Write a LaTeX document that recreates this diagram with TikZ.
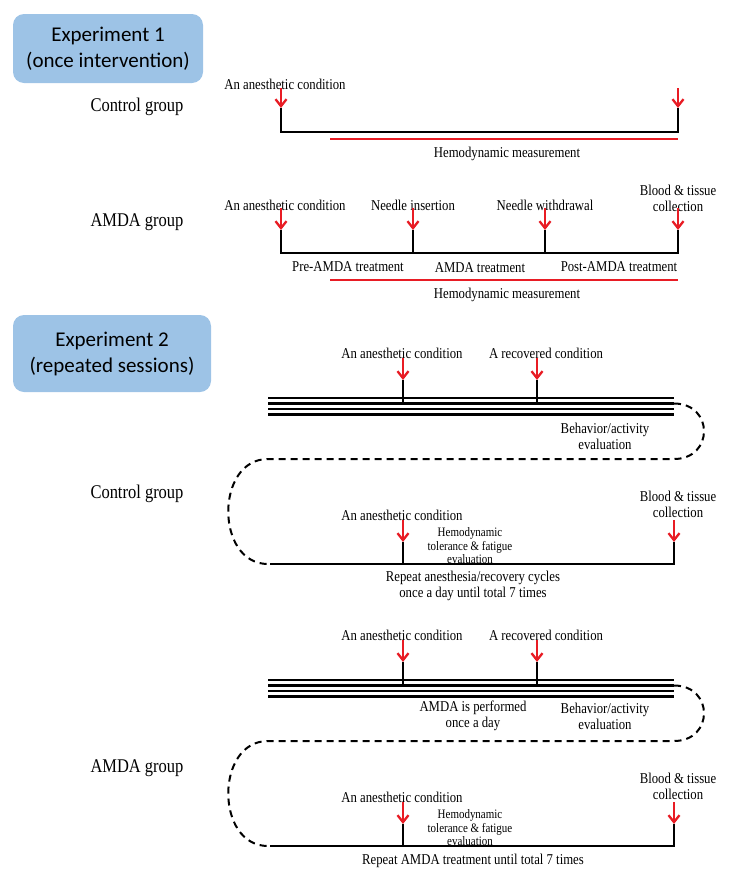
\documentclass[tikz,border=0pt]{standalone}
\usepackage{fontspec}
\setmainfont{Liberation Serif}[FakeStretch=0.85]
\newfontfamily\boxfont{Carlito}
\usetikzlibrary{arrows.meta}
\definecolor{boxblue}{RGB}{157,195,230}
\definecolor{tred}{RGB}{232,28,36}
\begin{document}
\begin{tikzpicture}[x=1pt,y=-1pt,
  expbox/.style={fill=boxblue, rounded corners=11pt, inner sep=0pt, align=center,
    font=\boxfont\fontsize{21}{26}\selectfont},
  grp/.style={font=\fontsize{19.4}{22}\selectfont, inner sep=0pt},
  lbl/.style={font=\fontsize{15}{16}\selectfont, inner sep=0pt, align=center},
  small/.style={font=\fontsize{12.9}{13.5}\selectfont, inner sep=0pt, align=center},
  tl/.style={line width=2.4pt, black, line join=miter},
  redarrow/.style={tred, line width=2.3pt, -{Straight Barb[length=7pt,width=11pt]}},
  redline/.style={tred, line width=2pt},
  loopline/.style={line width=2pt, dash pattern=on 7pt off 5pt}
]
\useasboundingbox (0,0) rectangle (729,884);

% ---------- Experiment 1 ----------
\node[expbox, minimum width=190pt, minimum height=69pt] (exp1) at (108,48.5) {Experiment 1\\(once intervention)};

% Control group
\node[grp] (cg1) at (137,107) {Control group};
\node[lbl] (ac1) at (285,84) {An anesthetic condition};
\coordinate (c1at) at (281,88);  \coordinate (c1ab) at (281,108); \coordinate (c1l) at (281,132);
\coordinate (c1bt) at (678,88);  \coordinate (c1bb) at (678,108); \coordinate (c1r) at (678,132);
\draw[redarrow] (c1at) -- (c1ab);
\draw[redarrow] (c1bt) -- (c1bb);
\draw[tl] (c1ab) -- (c1l) -- (c1r) -- (c1bb);
\coordinate (r1a) at (330,139); \coordinate (r1b) at (678,139);
\draw[redline] (r1a) -- (r1b);
\node[lbl] (hm1) at (507,154) {Hemodynamic measurement};

% AMDA group
\node[grp] (ag1) at (137,222) {AMDA group};
\node[lbl] (ac2) at (285,205) {An anesthetic condition};
\node[lbl] (ni) at (413,205) {Needle insertion};
\node[lbl] (nw) at (545,205) {Needle withdrawal};
\node[lbl] (bt1) at (678,198) {Blood \& tissue\\collection};
\foreach \n/\x in {a/281,b/413,c/545,d/678}{
  \coordinate (a1\n t) at (\x,208);
  \coordinate (a1\n m) at (\x,230);
  \coordinate (a1\n b) at (\x,253);
}
\foreach \n in {a,b,c,d}{
  \draw[redarrow] (a1\n t) -- (a1\n m);
}
\draw[tl] (a1am) -- (a1ab) -- (a1db) -- (a1dm);
\draw[tl] (a1bm) -- (a1bb);
\draw[tl] (a1cm) -- (a1cb);
\node[lbl] (pre) at (348,267) {Pre-AMDA treatment};
\node[lbl] (amt) at (480,268) {AMDA treatment};
\node[lbl] (post) at (619,267) {Post-AMDA treatment};
\coordinate (r2a) at (330,280); \coordinate (r2b) at (678,280);
\draw[redline] (r2a) -- (r2b);
\node[lbl] (hm2) at (507,295) {Hemodynamic measurement};

% ---------- Experiment 2 ----------
\node[expbox, minimum width=198pt, minimum height=77pt] (exp2) at (112,353.5) {Experiment 2\\(repeated sessions)};

% Control group (repeated)
\node[lbl] (ac3) at (402,353) {An anesthetic condition};
\node[lbl] (rc1) at (546,353) {A recovered condition};
\coordinate (c2at) at (403,358); \coordinate (c2am) at (403,380); \coordinate (c2ab) at (403,403);
\coordinate (c2bt) at (537,358); \coordinate (c2bm) at (537,380); \coordinate (c2bb) at (537,403);
\draw[redarrow] (c2at) -- (c2am);
\draw[redarrow] (c2bt) -- (c2bm);
\draw[tl] (c2am) -- (c2ab);
\draw[tl] (c2bm) -- (c2bb);
\foreach \k/\y in {1/398,2/403.5,3/409,4/414.5}{
  \coordinate (c2l\k) at (268,\y); \coordinate (c2r\k) at (674,\y);
  \draw[tl] (c2l\k) -- (c2r\k);
}
\node[lbl] (be1) at (605,436) {Behavior/activity\\evaluation};
\coordinate (c2lt) at (674,459); \coordinate (c2lb) at (268,459); \coordinate (c2le) at (268,564);
\draw[loopline] (c2r2) .. controls (714,403.5) and (714,459) .. (c2lt) -- (c2lb)
   .. controls (215,459) and (215,564) .. (c2le);
\node[grp] (cg2) at (137,494) {Control group};
\node[lbl] (ac4) at (402,515) {An anesthetic condition};
\node[lbl] (bt2) at (678,504) {Blood \& tissue\\collection};
\coordinate (c3at) at (403,520); \coordinate (c3am) at (403,542);
\coordinate (c3bt) at (674,520); \coordinate (c3bm) at (674,542);
\coordinate (c3l) at (403,564); \coordinate (c3s) at (270,564); \coordinate (c3r) at (674,564);
\draw[redarrow] (c3at) -- (c3am);
\draw[redarrow] (c3bt) -- (c3bm);
\draw[tl] (c3s) -- (c3r) -- (c3bm);
\draw[tl] (c3am) -- (c3l);
\node[small] (hf1) at (470,546) {Hemodynamic\\tolerance \& fatigue\\evaluation};
\node[lbl] (rp1) at (473,586) {Repeat anesthesia/recovery cycles\\once a day until total 7 times};

% AMDA group (repeated)
\node[lbl] (ac5) at (402,635) {An anesthetic condition};
\node[lbl] (rc2) at (546,635) {A recovered condition};
\coordinate (d2at) at (403,640); \coordinate (d2am) at (403,662); \coordinate (d2ab) at (403,685);
\coordinate (d2bt) at (537,640); \coordinate (d2bm) at (537,662); \coordinate (d2bb) at (537,685);
\draw[redarrow] (d2at) -- (d2am);
\draw[redarrow] (d2bt) -- (d2bm);
\draw[tl] (d2am) -- (d2ab);
\draw[tl] (d2bm) -- (d2bb);
\foreach \k/\y in {1/680,2/685.5,3/691,4/696.5}{
  \coordinate (d2l\k) at (268,\y); \coordinate (d2r\k) at (674,\y);
  \draw[tl] (d2l\k) -- (d2r\k);
}
\node[lbl] (ap) at (473,716) {AMDA is performed\\once a day};
\node[lbl] (be2) at (605,716) {Behavior/activity\\evaluation};
\coordinate (d2lt) at (674,741); \coordinate (d2lb) at (268,741); \coordinate (d2le) at (268,846);
\draw[loopline] (d2r2) .. controls (714,685.5) and (714,741) .. (d2lt) -- (d2lb)
   .. controls (215,741) and (215,846) .. (d2le);
\node[grp] (ag2) at (137,768) {AMDA group};
\node[lbl] (ac6) at (402,797) {An anesthetic condition};
\node[lbl] (bt3) at (678,786) {Blood \& tissue\\collection};
\coordinate (d3at) at (403,802); \coordinate (d3am) at (403,824);
\coordinate (d3bt) at (674,802); \coordinate (d3bm) at (674,824);
\coordinate (d3l) at (403,846); \coordinate (d3s) at (270,846); \coordinate (d3r) at (674,846);
\draw[redarrow] (d3at) -- (d3am);
\draw[redarrow] (d3bt) -- (d3bm);
\draw[tl] (d3s) -- (d3r) -- (d3bm);
\draw[tl] (d3am) -- (d3l);
\node[small] (hf2) at (470,828) {Hemodynamic\\tolerance \& fatigue\\evaluation};
\node[lbl] (rp2) at (473,861) {Repeat AMDA treatment until total 7 times};
\end{tikzpicture}
\end{document}
